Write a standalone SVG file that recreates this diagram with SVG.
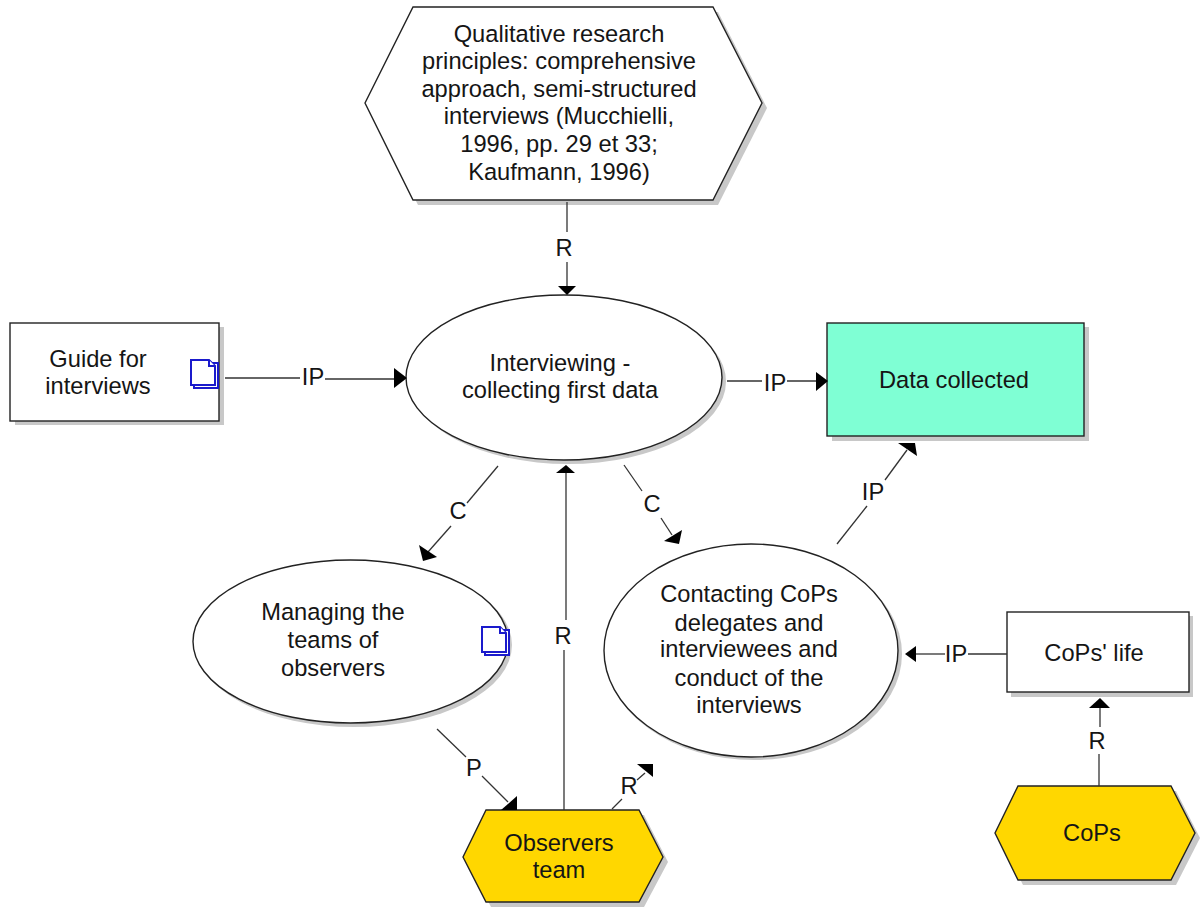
<svg xmlns="http://www.w3.org/2000/svg" width="1200" height="910" viewBox="0 0 1200 910">
<style>
text{font-family:"Liberation Sans",Arial,sans-serif;font-size:23.700px;fill:#151515;text-anchor:middle}
.s{fill:#c8c8c8;stroke:none}
.n{stroke:#222;stroke-width:1.4}
.w{fill:#fff}
.c line{stroke:#333;stroke-width:1.3}
.c path{fill:#000;stroke:none}
.d{fill:#fff;stroke:#1a1acc;stroke-width:2}
</style>
<defs>
<g id="doc"><rect class="d" x="3" y="3" width="24" height="25"/><path class="d" d="M0 0H18L24 6V25H0Z"/><path class="d" d="M18 0V6H24" fill="none"/></g>
</defs>
<rect width="1200" height="910" fill="#fff"/>
<g id="n-principles"><polygon class="s" points="370,108 418,12 718,12 767,108 718,205 418,205"/><polygon class="n w" points="365,103 413,7 713,7 762,103 713,200 413,200"/>
<text x="559" y="42">Qualitative research</text><text x="559" y="69">principles: comprehensive</text><text x="559" y="97">approach, semi-structured</text><text x="559" y="124">interviews (Mucchielli,</text><text x="559" y="152">1996, pp. 29 et 33;</text><text x="559" y="180">Kaufmann, 1996)</text></g>
<g id="n-guide"><rect class="s" x="15" y="327" width="209" height="98"/><rect class="n w" x="10" y="323" width="209" height="98"/><text x="98" y="367">Guide for</text><text x="98" y="394">interviews</text><use href="#doc" x="191" y="360"/></g>
<g id="n-interview"><ellipse class="s" cx="568" cy="381.500" rx="158" ry="82.500"/><ellipse class="n w" cx="564" cy="377.500" rx="158" ry="82.500"/><text x="560" y="371">Interviewing -</text><text x="560" y="398">collecting first data</text></g>
<g id="n-data"><rect class="s" x="832" y="327" width="257" height="114"/><rect class="n" fill="#7fffd4" x="827" y="323" width="257" height="113"/><text x="954" y="388">Data collected</text></g>
<g id="n-managing"><ellipse class="s" cx="354" cy="645" rx="158" ry="82"/><ellipse class="n w" cx="350.500" cy="641.500" rx="157.500" ry="81.500"/><text x="333" y="620">Managing the</text><text x="333" y="648">teams of</text><text x="333" y="676">observers</text><use href="#doc" x="482" y="627"/></g>
<g id="n-contacting"><ellipse class="s" cx="754" cy="654" rx="148" ry="106"/><ellipse class="n w" cx="751" cy="650.500" rx="147" ry="106.500"/><text x="749" y="602">Contacting CoPs</text><text x="749" y="631">delegates and</text><text x="749" y="657">interviewees and</text><text x="749" y="686">conduct of the</text><text x="749" y="713">interviews</text></g>
<g id="n-life"><rect class="s" x="1011" y="616" width="182" height="81"/><rect class="n w" x="1007" y="612" width="182" height="80"/><text x="1094" y="661">CoPs' life</text></g>
<g id="n-observers"><polygon class="s" points="468,862 491,815 644,815 668,862 644,907 491,907"/><polygon class="n" fill="#ffd700" points="463,857 486,810 639,810 663,857 639,902 486,902"/><text x="559" y="851">Observers</text><text x="559" y="878">team</text></g>
<g id="n-cops"><polygon class="s" points="1000,838 1023,791 1176,791 1200,838 1176,885 1023,885"/><polygon class="n" fill="#ffd700" points="995,833 1018,786 1171,786 1195,833 1171,880 1018,880"/><text x="1092" y="841">CoPs</text></g>
<g id="connectors" class="c">
<line x1="567" y1="202" x2="567" y2="232"/><line x1="567" y1="262" x2="567" y2="287"/><path d="M558 286H576L567 295Z"/>
<line x1="225" y1="378" x2="300" y2="378"/><line x1="325" y1="379" x2="397" y2="379"/><path d="M394 368L407 378L394 388Z"/>
<line x1="727" y1="381" x2="762" y2="381"/><line x1="787" y1="381" x2="820" y2="381"/><path d="M816 372L828 381L816 391Z"/>
<line x1="498" y1="466" x2="467" y2="503"/><line x1="451" y1="526" x2="428" y2="552"/><path d="M419 545L437 557L423 561Z"/>
<line x1="624" y1="465" x2="642" y2="491"/><line x1="661" y1="518" x2="672" y2="535"/><path d="M664 541L682 530L679 544Z"/>
<line x1="837" y1="544" x2="867" y2="506"/><line x1="885" y1="480" x2="907" y2="450"/><path d="M898 443H915L917 456Z"/>
<line x1="564" y1="810" x2="564" y2="650"/><line x1="566" y1="620" x2="566" y2="472"/><path d="M556 473L566 465L575 473Z"/>
<line x1="437" y1="729" x2="466" y2="757"/><line x1="482" y1="776" x2="508" y2="802"/><path d="M517 796V810H501Z"/>
<line x1="612" y1="809" x2="622" y2="799"/><line x1="637" y1="780" x2="645" y2="773"/><path d="M637 764H653V777Z"/>
<line x1="1007" y1="654" x2="968" y2="654"/><line x1="945" y1="654" x2="914" y2="654"/><path d="M905 654L916 646V662Z"/>
<line x1="1099" y1="786" x2="1099" y2="754"/><line x1="1100" y1="727" x2="1100" y2="706"/><path d="M1089 708L1100 698L1110 708Z"/>
</g>
<g id="labels">
<text x="564" y="256">R</text><text x="313" y="385">IP</text><text x="775" y="391">IP</text><text x="458" y="519">C</text><text x="652" y="512">C</text><text x="873" y="500">IP</text><text x="563" y="644">R</text><text x="474" y="776">P</text><text x="629" y="794">R</text><text x="956" y="662">IP</text><text x="1097" y="749">R</text>
</g>
</svg>
